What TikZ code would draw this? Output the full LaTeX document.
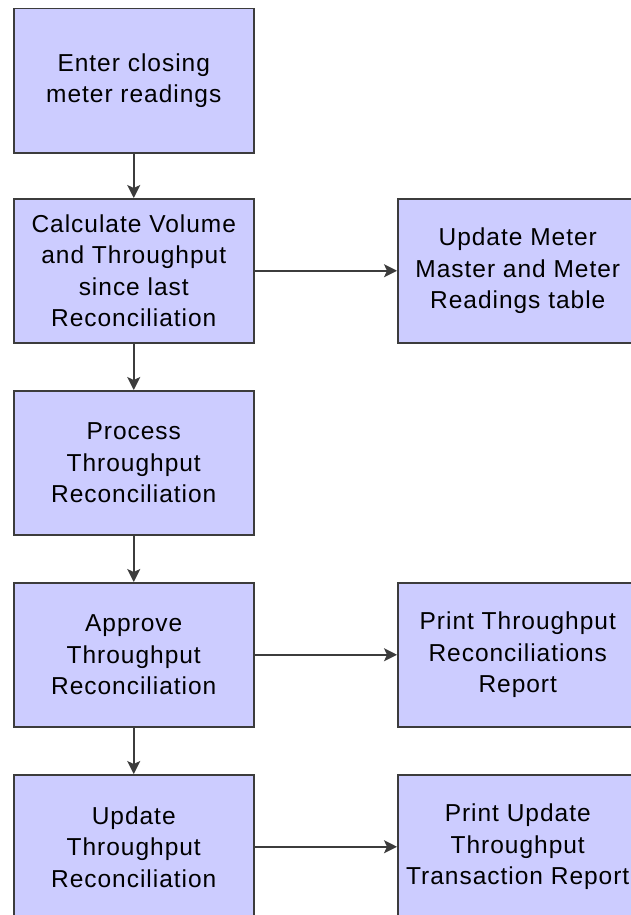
\documentclass[tikz,border=0pt]{standalone}
\usepackage{fontspec}
\setmainfont{Liberation Sans}[LetterSpace=4]
\usetikzlibrary{arrows.meta}
\definecolor{boxfill}{RGB}{204,204,255}
\definecolor{edge}{RGB}{60,60,60}
\tikzset{
  proc/.style={draw=edge, fill=boxfill, line width=1.5pt, minimum width=240pt, minimum height=144pt,
    inner sep=0pt, align=center, font=\fontsize{24.5}{31.5}\selectfont, anchor=north west},
  conn/.style={draw=edge, line width=1.5pt, -{Stealth[length=13pt,width=13pt,inset=3pt]}}
}
\begin{document}
\begin{tikzpicture}[x=1pt,y=-1pt]
\useasboundingbox (0,0) rectangle (631,915);
\begin{scope}
\clip (0,0) rectangle (631,915);
\node[proc] (a) at (13,8) {Enter closing\\meter readings};
\node[proc] (b) at (13,198) {Calculate Volume\\and Throughput\\since last\\Reconciliation};
\node[proc] (c) at (397,198) {Update Meter\\Master and Meter\\Readings table};
\node[proc] (d) at (13,390) {Process\\Throughput\\Reconciliation};
\node[proc] (e) at (13,582) {Approve\\Throughput\\Reconciliation};
\node[proc] (f) at (397,582) {Print Throughput\\Reconciliations\\Report};
\node[proc] (g) at (13,774) {Update\\Throughput\\Reconciliation};
\node[proc] (h) at (397,774) {Print Update\\Throughput\\Transaction Report};
\draw[conn] (a) -- (b);
\draw[conn] (b) -- (c);
\draw[conn] (b) -- (d);
\draw[conn] (d) -- (e);
\draw[conn] (e) -- (f);
\draw[conn] (e) -- (g);
\draw[conn] (g) -- (h);
\end{scope}
\end{tikzpicture}
\end{document}
